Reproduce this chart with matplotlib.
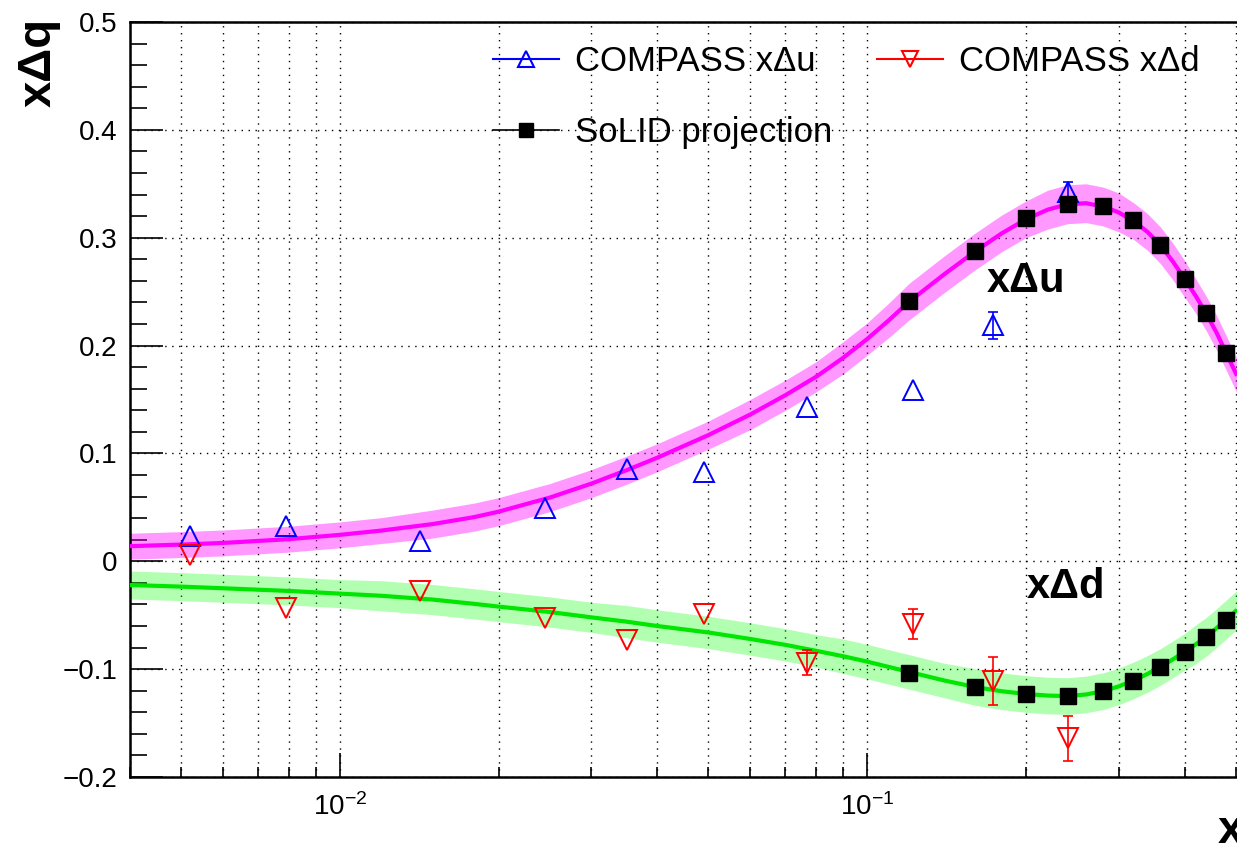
import numpy as np
import matplotlib
matplotlib.use('Agg')
import matplotlib.pyplot as plt
from matplotlib.lines import Line2D
from matplotlib.ticker import MultipleLocator, LogLocator, FuncFormatter, NullFormatter, LogFormatterMathtext

plt.rcParams['font.family'] = ['Liberation Sans', 'DejaVu Sans']
plt.rcParams['mathtext.fontset'] = 'custom'
plt.rcParams['mathtext.rm'] = 'Liberation Sans'
plt.rcParams['mathtext.it'] = 'Liberation Sans:italic'
plt.rcParams['mathtext.bf'] = 'Liberation Sans:bold'

# ---------------- data ----------------
curve_x = [0.004, 0.005, 0.006, 0.008, 0.010, 0.012, 0.015, 0.018, 0.020, 0.025, 0.030,
           0.035, 0.040, 0.050, 0.060, 0.070, 0.080, 0.090, 0.100, 0.110, 0.120, 0.140,
           0.160, 0.180, 0.200, 0.220, 0.240, 0.260, 0.280, 0.300, 0.320, 0.340, 0.360,
           0.380, 0.400, 0.420, 0.440, 0.460, 0.480, 0.503]
curve_u = [0.0140, 0.0155, 0.0170, 0.0205, 0.0245, 0.0285, 0.0345, 0.0410, 0.0460, 0.0590, 0.0720,
           0.0845, 0.0960, 0.1170, 0.1360, 0.1540, 0.1710, 0.1885, 0.2060, 0.2235, 0.2405, 0.2660,
           0.2870, 0.3040, 0.3170, 0.3260, 0.3310, 0.3320, 0.3290, 0.3235, 0.3155, 0.3055, 0.2930,
           0.2780, 0.2620, 0.2460, 0.2295, 0.2120, 0.1930, 0.1720]
band_u = [0.012, 0.012, 0.012, 0.012, 0.012, 0.012, 0.013, 0.013, 0.013, 0.013, 0.013,
          0.013, 0.013, 0.013, 0.014, 0.014, 0.014, 0.015, 0.015, 0.016, 0.017, 0.017,
          0.017, 0.017, 0.017, 0.018, 0.018, 0.018, 0.018, 0.018, 0.017, 0.017, 0.017,
          0.017, 0.017, 0.016, 0.016, 0.016, 0.016, 0.016]
curve_d = [-0.0220, -0.0235, -0.0250, -0.0275, -0.0300, -0.0320, -0.0355, -0.0395, -0.0420, -0.0470, -0.0520,
           -0.0560, -0.0600, -0.0660, -0.0720, -0.0775, -0.0830, -0.0880, -0.0930, -0.0980, -0.1025, -0.1105,
           -0.1165, -0.1205, -0.1230, -0.1245, -0.1250, -0.1235, -0.1205, -0.1160, -0.1105, -0.1045, -0.0980,
           -0.0910, -0.0840, -0.0770, -0.0700, -0.0620, -0.0540, -0.0450]
band_d = [0.013, 0.013, 0.013, 0.013, 0.013, 0.014, 0.014, 0.014, 0.014, 0.014, 0.014,
          0.015, 0.015, 0.015, 0.015, 0.015, 0.015, 0.016, 0.016, 0.016, 0.016, 0.016,
          0.017, 0.017, 0.017, 0.017, 0.017, 0.017, 0.017, 0.017, 0.017, 0.017, 0.017,
          0.017, 0.017, 0.018, 0.018, 0.018, 0.018, 0.018]

compass_x = [0.0052, 0.0079, 0.0142, 0.0245, 0.035, 0.049, 0.077, 0.122, 0.173, 0.240]
compass_u = [0.023, 0.033, 0.019, 0.049, 0.086, 0.083, 0.143, 0.159, 0.219, 0.342]
compass_u_err = [0.0, 0.0, 0.0, 0.0, 0.0, 0.0, 0.0, 0.0, 0.0125, 0.010]
compass_d = [0.006, -0.043, -0.028, -0.053, -0.073, -0.049, -0.094, -0.058, -0.111, -0.164]
compass_d_err = [0.0, 0.0, 0.0, 0.0, 0.0, 0.0, 0.0116, 0.014, 0.022, 0.021]

solid_x = [0.12, 0.16, 0.20, 0.24, 0.28, 0.32, 0.36, 0.40, 0.44, 0.48]
solid_u = [0.241, 0.288, 0.318, 0.331, 0.329, 0.316, 0.293, 0.262, 0.230, 0.193]
solid_d = [-0.104, -0.117, -0.123, -0.125, -0.120, -0.111, -0.098, -0.084, -0.070, -0.054]

W, H = 1237, 846
fig = plt.figure(figsize=(W / 100, H / 100), dpi=100)
ax = fig.add_axes([130 / W, (H - 777) / H, 1 - 130 / W, (777 - 22) / H])
ax.set_xscale('log')
ax.set_xlim(0.004, 0.503)
ax.set_ylim(-0.2, 0.5)

# grid
ax.grid(which='major', axis='both', color='black', lw=1.0, linestyle=(0, (1, 4)), zorder=0)
ax.grid(which='minor', axis='x', color='black', lw=1.0, linestyle=(0, (1, 4)), zorder=0)
ax.set_axisbelow(True)

cu, bu = np.array(curve_u), np.array(band_u)
cd, bd = np.array(curve_d), np.array(band_d)
ax.fill_between(curve_x, cu - bu, cu + bu, color='#ff00ff', alpha=0.4, lw=0, zorder=2)
ax.plot(curve_x, curve_u, color='#ff00ff', lw=3, zorder=3, solid_capstyle='butt')
ax.fill_between(curve_x, cd - bd, cd + bd, color='#00ff00', alpha=0.3, lw=0, zorder=2)
ax.plot(curve_x, curve_d, color='#00e600', lw=3, zorder=3, solid_capstyle='butt')

cx = np.array(compass_x)
for yv, ev, mk, col in [(compass_u, compass_u_err, '^', '#0000ff'),
                        (compass_d, compass_d_err, 'v', '#ff0000')]:
    yv, ev = np.array(yv), np.array(ev)
    sel = ev > 0
    ax.errorbar(cx[sel], yv[sel], yerr=ev[sel], fmt='none', ecolor=col,
                elinewidth=1.2, capsize=3.5, capthick=1.2, zorder=4)
    ax.plot(cx, yv, mk, color=col, mfc='none', mec=col, ms=14, mew=1.4, zorder=4)
ax.plot(solid_x, solid_u, 's', color='black', ms=11.5, zorder=5)
ax.plot(solid_x, solid_d, 's', color='black', ms=11.5, zorder=5)

# ticks
ax.yaxis.set_major_locator(MultipleLocator(0.1))
ax.yaxis.set_minor_locator(MultipleLocator(0.02))
ax.yaxis.set_major_formatter(FuncFormatter(
    lambda v, p: '0' if abs(v) < 1e-9 else ('%.1f' % v).replace('-', '\u2212')))
ax.xaxis.set_major_locator(LogLocator(base=10))
ax.xaxis.set_minor_locator(LogLocator(base=10, subs=np.arange(2, 10)))
ax.xaxis.set_major_formatter(LogFormatterMathtext())
ax.xaxis.set_minor_formatter(NullFormatter())

ax.tick_params(axis='y', which='major', direction='in', length=24, width=1.2, pad=9, labelsize=20)
ax.tick_params(axis='y', which='minor', direction='in', length=12, width=1.2)
ax.tick_params(axis='x', which='major', direction='in', length=17, width=1.2, pad=12, labelsize=20)
ax.tick_params(axis='x', which='minor', direction='in', length=7, width=1.2)

for s in ['left', 'bottom', 'top']:
    ax.spines[s].set_linewidth(1.8)
ax.spines['right'].set_visible(False)

# legend
h_u = Line2D([], [], color='#0000ff', lw=1.5, marker='^', mfc='none', mec='#0000ff', ms=11, mew=1.5)
h_d = Line2D([], [], color='#ff0000', lw=1.5, marker='v', mfc='none', mec='#ff0000', ms=11, mew=1.5)
h_s = Line2D([], [], color='black', lw=1.2, marker='s', ms=10)
ax.legend([h_u, h_s, h_d], ['COMPASS x\u0394u', 'SoLID projection', 'COMPASS x\u0394d'],
          ncol=2, loc='upper left', bbox_to_anchor=(493 / W, 1 - 45 / H),
          bbox_transform=fig.transFigure, frameon=False, fontsize=25,
          handlelength=1.9, handletextpad=0.45, columnspacing=1.3, labelspacing=1.1,
          borderpad=0, borderaxespad=0)

# annotations
fig.text(987 / W, 1 - 292 / H, 'x\u0394u', fontsize=30, fontweight='bold', ha='left', va='baseline')
fig.text(1027 / W, 1 - 598 / H, 'x\u0394d', fontsize=30, fontweight='bold', ha='left', va='baseline')
fig.text(39 / W, 1 - 62 / H, 'x\u0394q', fontsize=34, fontweight='bold', rotation=90,
         ha='center', va='center')
# axis title: cut off at the right edge exactly as in the reference image
fig.text(1218 / W, 1 - 843 / H, 'x', fontsize=34, fontweight='bold', ha='left', va='baseline')

fig.savefig('out.png', dpi=100)
